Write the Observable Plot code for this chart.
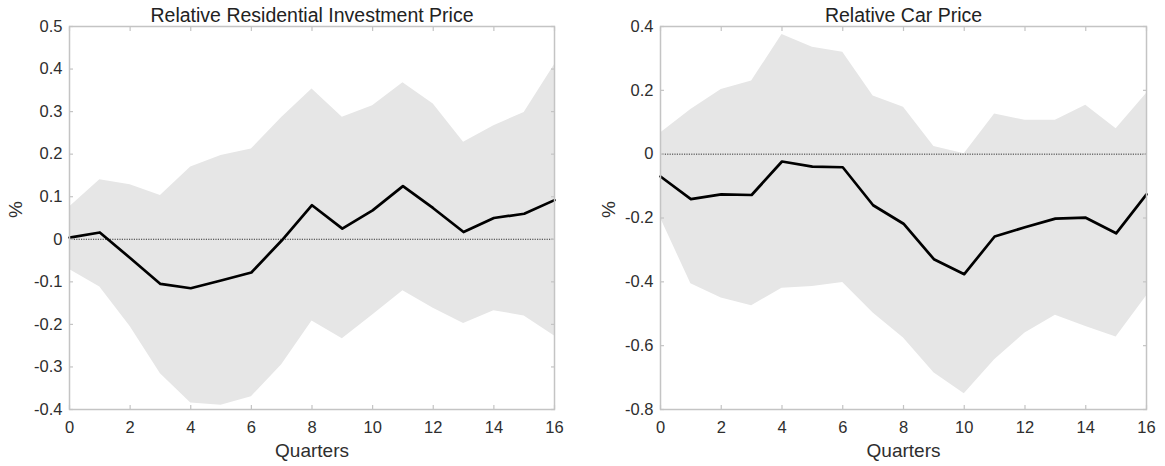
<!DOCTYPE html>
<html>
<head>
<meta charset="utf-8">
<script src="https://cdn.jsdelivr.net/npm/d3@7"></script>
<script src="https://cdn.jsdelivr.net/npm/@observablehq/plot@0.6"></script>
<style>
  html, body { margin: 0; padding: 0; background: #fff; }
  #wrap { display: flex; width: 1165px; height: 466px; }
  svg { display: block; }
</style>
</head>
<body>
<div id="wrap"></div>
<script>
const quarters = [0, 1, 2, 3, 4, 5, 6, 7, 8, 9, 10, 11, 12, 13, 14, 15, 16];
const xTicks = [0, 2, 4, 6, 8, 10, 12, 14, 16];

const resTitle = "Relative Residential Investment Price";
const resMean  = [0.004, 0.016, -0.044, -0.105, -0.115, -0.097, -0.078, -0.003, 0.080, 0.025, 0.068, 0.125, 0.073, 0.017, 0.050, 0.060, 0.092];
const resUpper = [0.076, 0.140, 0.128, 0.103, 0.170, 0.197, 0.212, 0.286, 0.353, 0.287, 0.314, 0.368, 0.318, 0.228, 0.267, 0.298, 0.410];
const resLower = [-0.071, -0.112, -0.205, -0.316, -0.385, -0.390, -0.370, -0.295, -0.192, -0.234, -0.178, -0.121, -0.162, -0.198, -0.168, -0.180, -0.227];
const resYTicks = [-0.4, -0.3, -0.2, -0.1, 0, 0.1, 0.2, 0.3, 0.4, 0.5];

const carTitle = "Relative Car Price";
const carMean  = [-0.070, -0.141, -0.126, -0.128, -0.023, -0.039, -0.041, -0.160, -0.218, -0.329, -0.376, -0.258, -0.229, -0.202, -0.199, -0.248, -0.126];
const carUpper = [0.066, 0.140, 0.203, 0.229, 0.375, 0.335, 0.319, 0.182, 0.147, 0.024, 0.001, 0.126, 0.106, 0.106, 0.153, 0.080, 0.190];
const carLower = [-0.200, -0.406, -0.451, -0.475, -0.420, -0.415, -0.402, -0.498, -0.576, -0.685, -0.751, -0.644, -0.560, -0.505, -0.540, -0.573, -0.444];
const carYTicks = [-0.8, -0.6, -0.4, -0.2, 0, 0.2, 0.4];

const xLabel = "Quarters";
const yLabel = "%";

const TEXT = "#2e2e2e";
const GRID = "#c4c4c4";
const fmt = d => (Math.abs(d) < 1e-9 ? "0" : String(+d.toFixed(2)));

function panel({title, mean, upper, lower, yTicks, width, marginLeft, marginRight, yLabelDx}) {
  const table = quarters.map((q, i) => ({q, mean: mean[i], upper: upper[i], lower: lower[i]}));
  return Plot.plot({
    width,
    height: 466,
    marginTop: 26,
    marginBottom: 57,
    marginLeft,
    marginRight,
    style: {fontFamily: "'Liberation Sans', Arial, Helvetica, sans-serif", fontSize: "16.5px", color: TEXT, background: "#fff"},
    x: {domain: [0, 16]},
    y: {domain: [yTicks[0], yTicks[yTicks.length - 1]]},
    marks: [
      Plot.areaY(table, {x: "q", y1: "lower", y2: "upper", fill: "#e6e6e6"}),
      Plot.ruleY([0], {stroke: "#333", strokeWidth: 1, strokeDasharray: "1.2,1.2"}),
      Plot.line(table, {x: "q", y: "mean", stroke: "#000", strokeWidth: 2.7}),
      Plot.frame({stroke: GRID, strokeWidth: 1.5}),
      Plot.axisX(xTicks, {anchor: "bottom", tickSize: -4, text: null, label: null, stroke: GRID, strokeWidth: 1.2}),
      Plot.axisX(xTicks, {anchor: "top", tickSize: -4, text: null, label: null, stroke: GRID, strokeWidth: 1.2}),
      Plot.axisY(yTicks, {anchor: "left", tickSize: -4, text: null, label: null, stroke: GRID, strokeWidth: 1.2}),
      Plot.axisY(yTicks, {anchor: "right", tickSize: -4, text: null, label: null, stroke: GRID, strokeWidth: 1.2}),
      Plot.axisX(xTicks, {anchor: "bottom", tickSize: 0, tickPadding: 12, tickFormat: fmt, fill: TEXT, fontSize: 16.5, label: null}),
      Plot.axisY(yTicks, {anchor: "left", tickSize: 0, tickPadding: 7, tickFormat: fmt, fill: TEXT, fontSize: 16.5, label: null}),
      Plot.text([title], {frameAnchor: "top", dy: -11, lineAnchor: "middle", fontSize: 19.5, fill: "#222"}),
      Plot.text([xLabel], {frameAnchor: "bottom", dy: 41, lineAnchor: "middle", fontSize: 19, fill: TEXT}),
      Plot.text([yLabel], {frameAnchor: "left", dx: yLabelDx, rotate: -90, lineAnchor: "middle", fontSize: 19, fill: TEXT})
    ]
  });
}

const wrap = document.getElementById("wrap");
wrap.appendChild(panel({title: resTitle, mean: resMean, upper: resUpper, lower: resLower, yTicks: resYTicks,
  width: 582, marginLeft: 69, marginRight: 28, yLabelDx: -54}));
wrap.appendChild(panel({title: carTitle, mean: carMean, upper: carUpper, lower: carLower, yTicks: carYTicks,
  width: 583, marginLeft: 78, marginRight: 19, yLabelDx: -52}));
</script>
</body>
</html>
